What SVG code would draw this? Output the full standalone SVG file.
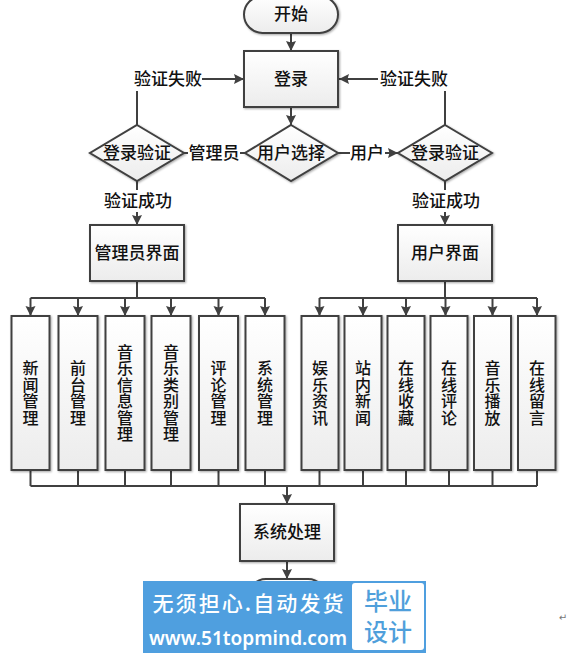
<svg xmlns="http://www.w3.org/2000/svg" width="569" height="653" viewBox="0 0 569 653">
<style>
.n{fill:url(#g);stroke:#404040;stroke-width:2;filter:url(#s)}
.c{fill:none;stroke:#404040;stroke-width:2}
.a{marker-end:url(#m)}
text{font-family:"Noto Sans CJK SC","Liberation Sans",sans-serif;font-size:17px;fill:#111;text-anchor:middle;font-weight:500}
.v{font-size:16px;writing-mode:vertical-rl;text-orientation:upright;letter-spacing:.5px}
.w{fill:#fff;font-size:21px;font-weight:500}
.b{fill:#4f9fdb;font-size:24px;font-weight:500}
</style>
<defs>
<linearGradient id="g" x1="0" y1="0" x2="0" y2="1"><stop offset="0" stop-color="#fff"/><stop offset="1" stop-color="#ececec"/></linearGradient>
<filter id="s" x="-10%" y="-10%" width="125%" height="125%"><feDropShadow dx="1" dy="1" stdDeviation="1" flood-color="#000" flood-opacity=".35"/></filter>
<marker id="m" markerUnits="userSpaceOnUse" markerWidth="11" markerHeight="11" refX="10" refY="5.5" orient="auto"><path d="M0,0.5L10,5.5L0,10.5L1.5,5.5z" fill="#404040"/></marker>
</defs>
<rect width="569" height="653" fill="#fff"/>
<g id="connectors">
<path class="c a" d="M291 33V51"/>
<path class="c a" d="M291 107V125"/>
<path class="c" d="M137 125V91"/>
<path class="c a" d="M202 79H244"/>
<path class="c" d="M445 125V91"/>
<path class="c a" d="M378 79H339"/>
<path class="c" d="M184 153H188M240 153H245"/>
<path class="c" d="M338 153H350"/>
<path class="c a" d="M385 153H398"/>
<path class="c" d="M137 181V190"/>
<path class="c a" d="M137 212V225"/>
<path class="c" d="M445 181V190"/>
<path class="c a" d="M445 212V225"/>
<path class="c" d="M137 281V298M30.500 298H265"/>
<path class="c a" d="M30.500 298V316"/><path class="c a" d="M78 298V316"/><path class="c a" d="M125 298V316"/><path class="c a" d="M171 298V316"/><path class="c a" d="M218.500 298V316"/><path class="c a" d="M265 298V316"/>
<path class="c" d="M445 281V298M319.500 298H537"/>
<path class="c a" d="M319.500 298V316"/><path class="c a" d="M363 298V316"/><path class="c a" d="M406 298V316"/><path class="c a" d="M445.500 298V316"/><path class="c a" d="M492.500 298V316"/><path class="c a" d="M537 298V316"/>
<path class="c" d="M30.500 486H537M30.500 470V486M78 470V486M125 470V486M171 470V486M218.500 470V486M265 470V486M319.500 470V486M363 470V486M406 470V486M449 470V486M492.500 470V486M537 470V486"/>
<path class="c a" d="M287 486V504"/>
<path class="c a" d="M287 561V579"/>
</g>
<g id="start"><rect class="n" x="244" y="-4" width="94" height="37" rx="18.500"/><text x="291" y="20">开始</text></g>
<g id="login"><rect class="n" x="244" y="51" width="94" height="56"/><text x="291" y="85">登录</text></g>
<g id="fail-left"><text x="168" y="85">验证失败</text></g>
<g id="fail-right"><text x="414" y="85">验证失败</text></g>
<g id="check-left"><path class="n" d="M137 125L184 153L137 181L90 153z"/><text x="137" y="159">登录验证</text></g>
<g id="select"><path class="n" d="M291 125L338 153L291 181L245 153z"/><text x="291" y="159">用户选择</text></g>
<g id="check-right"><path class="n" d="M445 125L492 153L445 181L398 153z"/><text x="445" y="159">登录验证</text></g>
<g id="label-admin"><text x="214" y="159">管理员</text></g>
<g id="label-user"><text x="367" y="159">用户</text></g>
<g id="ok-left"><text x="138" y="207">验证成功</text></g>
<g id="ok-right"><text x="446" y="207">验证成功</text></g>
<g id="admin"><rect class="n" x="90" y="225" width="94" height="56"/><text x="137" y="259">管理员界面</text></g>
<g id="user"><rect class="n" x="398" y="225" width="94" height="56"/><text x="445" y="259">用户界面</text></g>
<g id="a1"><rect class="n" x="11.500" y="316" width="38" height="154"/><text class="v" x="30.500" y="393">新闻管理</text></g>
<g id="a2"><rect class="n" x="58.500" y="316" width="39" height="154"/><text class="v" x="78" y="393">前台管理</text></g>
<g id="a3"><rect class="n" x="105.500" y="316" width="39" height="154"/><text class="v" x="125" y="393">音乐信息管理</text></g>
<g id="a4"><rect class="n" x="151.500" y="316" width="39" height="154"/><text class="v" x="171" y="393">音乐类别管理</text></g>
<g id="a5"><rect class="n" x="199" y="316" width="39" height="154"/><text class="v" x="218.500" y="393">评论管理</text></g>
<g id="a6"><rect class="n" x="245.500" y="316" width="39" height="154"/><text class="v" x="265" y="393">系统管理</text></g>
<g id="u1"><rect class="n" x="301.500" y="316" width="37" height="154"/><text class="v" x="320" y="393">娱乐资讯</text></g>
<g id="u2"><rect class="n" x="344.500" y="316" width="37" height="154"/><text class="v" x="363" y="393">站内新闻</text></g>
<g id="u3"><rect class="n" x="387.500" y="316" width="37" height="154"/><text class="v" x="406" y="393">在线收藏</text></g>
<g id="u4"><rect class="n" x="430.500" y="316" width="37" height="154"/><text class="v" x="449" y="393">在线评论</text></g>
<g id="u5"><rect class="n" x="474" y="316" width="37" height="154"/><text class="v" x="492.500" y="393">音乐播放</text></g>
<g id="u6"><rect class="n" x="518" y="316" width="37.500" height="154"/><text class="v" x="537" y="393">在线留言</text></g>
<g id="process"><rect class="n" x="240" y="504" width="94" height="57"/><text x="287" y="538">系统处理</text></g>
<g id="end"><rect class="n" x="248" y="579" width="78" height="40" rx="18"/></g>
<g id="watermark">
<rect x="143" y="581" width="283" height="72" fill="#4f9fdf"/>
<rect x="352" y="583" width="72" height="67" rx="3" fill="#fff"/>
<text class="w" x="248" y="611" textLength="191" lengthAdjust="spacing">无须担心.自动发货</text>
<text class="w" x="248" y="645" style="font-family:'Noto Sans','Liberation Sans',sans-serif;font-size:20.500px;font-weight:600" textLength="198" lengthAdjust="spacingAndGlyphs">www.51topmind.com</text>
<text class="b" x="388" y="610">毕业</text>
<text class="b" x="388" y="641">设计</text>
</g>
<text x="563" y="621" style="font-family:'DejaVu Sans',sans-serif;font-size:10px;fill:#777">↵</text>
</svg>
